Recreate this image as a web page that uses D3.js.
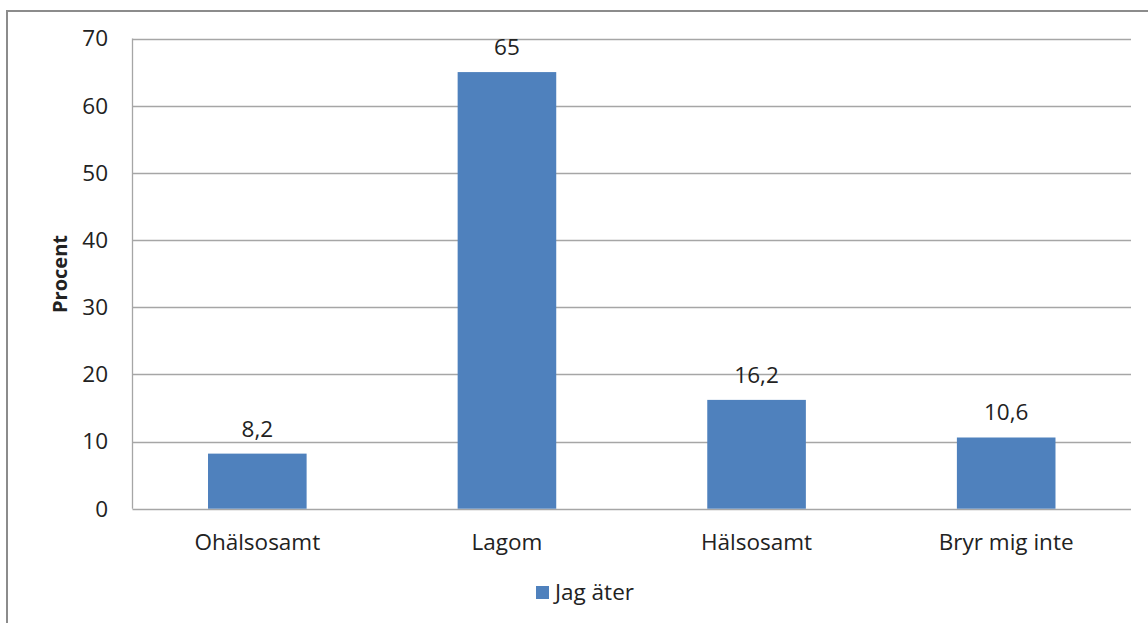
<!DOCTYPE html>
<html><head><meta charset="utf-8">
<script src="https://cdn.jsdelivr.net/npm/d3@7"></script>
<style>body{margin:0;background:#fff}svg{display:block}text{font-family:"Open Sans",sans-serif;fill:#222}</style>
</head><body>
<svg id="c" width="1148" height="623"></svg>
<script>
const categories = ["Ohälsosamt","Lagom","Hälsosamt","Bryr mig inte"];
const values = [8.2, 65, 16.2, 10.6];
const valueLabels = ["8,2","65","16,2","10,6"];
const yTicks = [0,10,20,30,40,50,60,70];
const seriesName = "Jag äter";
const yTitle = "Procent";

const svg = d3.select("#c");
const L=132.5, R=1131, T=38.5, B=508.7;
const fs = 22.5;
svg.append("path").attr("d","M7,623V11H1148").attr("fill","none").attr("stroke","#8c8c8c").attr("stroke-width",2);

const x = d3.scaleBand().domain(categories).range([L,R]).paddingInner(0.605).paddingOuter(0.3025);
const y = d3.scaleLinear().domain([0,70]).range([B,T]);

const g = svg.append("g");
g.selectAll("line.grid").data(yTicks).join("line").attr("class","grid")
 .attr("x1",L).attr("x2",R).attr("y1",d=>Math.round(y(d))+0.5).attr("y2",d=>Math.round(y(d))+0.5)
 .attr("stroke","#a6a6a6").attr("stroke-width",1.3);
g.append("line").attr("x1",L).attr("x2",L).attr("y1",T).attr("y2",B).attr("stroke","#a6a6a6").attr("stroke-width",1.3);

g.selectAll("text.yt").data(yTicks).join("text").attr("class","yt")
 .attr("x",108).attr("y",d=>y(d)).attr("dy","0.35em").attr("text-anchor","end").style("font-size",fs+"px").text(d=>d);

g.selectAll("rect.bar").data(values).join("rect").attr("class","bar")
 .attr("x",(d,i)=>x(categories[i])).attr("width",x.bandwidth())
 .attr("y",d=>y(d)).attr("height",d=>B-y(d)).attr("fill","#4f81bd");

g.selectAll("text.vl").data(values).join("text").attr("class","vl")
 .attr("x",(d,i)=>x(categories[i])+x.bandwidth()/2).attr("y",d=>y(d)-17)
 .attr("text-anchor","middle").style("font-size",fs+"px").text((d,i)=>valueLabels[i]);

g.selectAll("text.xl").data(categories).join("text").attr("class","xl")
 .attr("x",d=>x(d)+x.bandwidth()/2).attr("y",542).attr("dy","0.35em")
 .attr("text-anchor","middle").style("font-size",fs+"px").text(d=>d);

svg.append("text").attr("transform","translate(60,274) rotate(-90)").attr("text-anchor","middle")
 .attr("dy","0.35em").style("font-size","20px").style("font-weight","bold").text(yTitle);

svg.append("rect").attr("x",536).attr("y",586).attr("width",13).attr("height",13).attr("fill","#4f81bd");
svg.append("text").attr("x",555).attr("y",592.5).attr("dy","0.35em").style("font-size",fs+"px").text(seriesName);
</script>
</body></html>
